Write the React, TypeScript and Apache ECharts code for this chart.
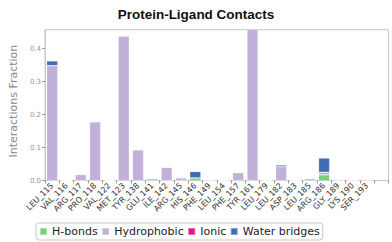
import React, { useEffect, useRef } from "react";
import * as echarts from "echarts";

const residues = [
  "LEU_115", "VAL_116", "ARG_117", "PRO_118", "VAL_122", "MET_123", "TYR_138",
  "GLU_141", "ILE_142", "ARG_145", "HIS_146", "PHE_149", "LEU_154", "PHE_157",
  "TYR_161", "LEU_179", "LEU_182", "ASP_183", "LEU_185", "ARG_186", "GLY_189",
  "LYS_190", "SER_193",
];
const hBonds = [0, 0, 0, 0, 0, 0, 0, 0, 0, 0, 0.008, 0, 0, 0, 0, 0, 0, 0, 0, 0.017, 0, 0, 0];
const hydrophobic = [0.348, 0, 0.018, 0.178, 0, 0.438, 0.093, 0, 0.04, 0.008, 0, 0.002, 0, 0.024, 0.48, 0, 0.042, 0, 0, 0.008, 0.002, 0, 0.002];
const ionic = [0, 0, 0, 0, 0, 0, 0, 0, 0, 0, 0, 0, 0, 0, 0, 0, 0, 0, 0, 0, 0, 0, 0];
const waterBridges = [0.014, 0, 0, 0, 0, 0, 0, 0.004, 0, 0.002, 0.019, 0, 0, 0, 0, 0, 0.005, 0, 0.004, 0.043, 0, 0, 0.001];
const yTicks = [0, 0.1, 0.2, 0.3, 0.4];

const seriesNames = ["H-bonds", "Hydrophobic", "Ionic", "Water bridges"];
const seriesColors = ["#7ccd7c", "#c1b1da", "#e8127e", "#3d6db5"];

export default function App() {
  const ref = useRef<HTMLDivElement>(null);
  useEffect(() => {
    if (!ref.current) return;
    const chart = echarts.init(ref.current, undefined, { renderer: "svg" });
    const cats = [...residues, ""];
    const datas = [hBonds, hydrophobic, ionic, waterBridges];
    chart.setOption({
      animation: false,
      title: {
        text: "Protein-Ligand Contacts",
        left: "center",
        top: 2,
        textStyle: { fontFamily: "Liberation Sans", fontWeight: "bold", fontSize: 13.5, color: "#111" },
      },
      grid: {
        left: 29.5,
        top: 29.7,
        right: 3.5,
        bottom: 61.5,
        show: true,
        borderColor: "#c8c8c8",
        borderWidth: 1,
        backgroundColor: "#fff",
      },
      legend: {
        data: seriesNames,
        orient: "horizontal",
        left: 36,
        top: 223,
        itemWidth: 7,
        itemHeight: 7,
        itemGap: 3.5,
        icon: "rect",
        padding: [3, 3],
        borderColor: "#c8c8c8",
        borderWidth: 1,
        borderRadius: 3,
        textStyle: { fontFamily: "DejaVu Sans", fontSize: 11, color: "#222" },
      },
      xAxis: {
        type: "category",
        data: cats,
        boundaryGap: true,
        axisLine: { show: true, lineStyle: { color: "#c8c8c8", width: 1 } },
        axisTick: { show: true, length: 3, lineStyle: { color: "#999" } },
        axisLabel: {
          interval: 0,
          rotate: 45,
          fontSize: 8,
          margin: 4,
          color: "#333",
          fontFamily: "DejaVu Sans",
        },
        splitLine: { show: false },
      },
      yAxis: {
        type: "value",
        min: 0,
        max: 0.457,
        name: "Interactions Fraction",
        nameLocation: "middle",
        nameRotate: 90,
        nameGap: 13,
        nameTextStyle: { fontFamily: "DejaVu Sans", fontSize: 11, color: "#888", padding: [0, 0, 0, 8] },
        axisLine: { show: true, lineStyle: { color: "#c8c8c8", width: 1 } },
        axisTick: { show: true, length: 3, customValues: yTicks, lineStyle: { color: "#999" } },
        axisLabel: {
          customValues: yTicks,
          formatter: (v: number) => v.toFixed(1),
          fontSize: 7,
          margin: 4,
          color: "#999",
          fontFamily: "DejaVu Sans",
        },
        splitLine: { show: false },
      },
      series: seriesNames.map((name, i) => ({
        name,
        type: "bar",
        stack: "total",
        barWidth: "77%",
        clip: true,
        data: datas[i],
        itemStyle: {
          color: seriesColors[i],
          borderColor: "rgba(255,255,255,0.35)",
          borderWidth: 0.6,
        },
      })),
    });
    return () => chart.dispose();
  }, []);
  return <div ref={ref} style={{ width: 392, height: 242, position: "absolute", left: 0, top: 0 }} />;
}
